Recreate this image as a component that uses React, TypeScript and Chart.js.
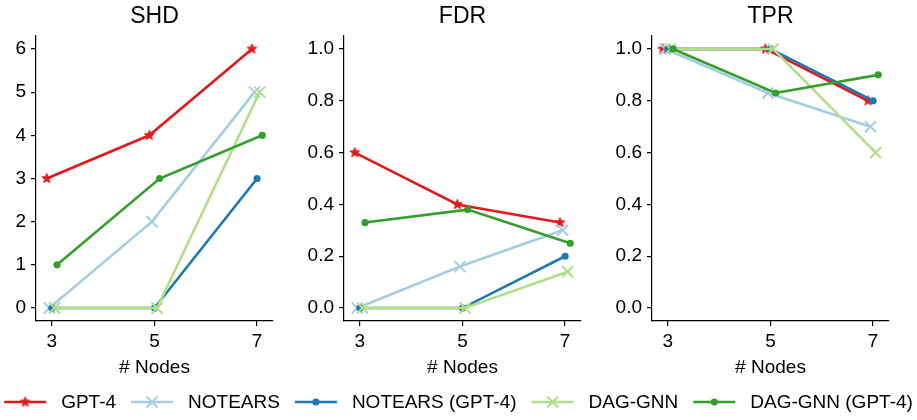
import React, { useEffect, useRef } from 'react';
import { Chart, registerables } from 'chart.js';

Chart.register(...registerables);

// ---------------- data ----------------
const nodes = [3, 5, 7];
const seriesNames = ['GPT-4', 'NOTEARS', 'NOTEARS (GPT-4)', 'DAG-GNN', 'DAG-GNN (GPT-4)'];

const shdGPT4 = [3, 4, 6];
const shdNotears = [0, 2, 5];
const shdNotearsGPT4 = [0, 0, 3];
const shdDagGnn = [0, 0, 5];
const shdDagGnnGPT4 = [1, 3, 4];

const fdrGPT4 = [0.6, 0.4, 0.33];
const fdrNotears = [0, 0.16, 0.3];
const fdrNotearsGPT4 = [0, 0, 0.2];
const fdrDagGnn = [0, 0, 0.14];
const fdrDagGnnGPT4 = [0.33, 0.38, 0.25];

const tprGPT4 = [1, 1, 0.8];
const tprNotears = [1, 0.83, 0.7];
const tprNotearsGPT4 = [1, 1, 0.8];
const tprDagGnn = [1, 1, 0.6];
const tprDagGnnGPT4 = [1, 0.83, 0.9];

const shdTicks = [0, 1, 2, 3, 4, 5, 6];
const rateTicks = [0, 0.2, 0.4, 0.6, 0.8, 1.0];
const xTitle = '# Nodes';

// ---------------- styles ----------------
const FONT = "'Liberation Sans', Arial, Helvetica, sans-serif";
const colors = ['#e31a1c', '#a6cee3', '#1f78b4', '#b2df8a', '#33a02c'];
const markers = ['star', 'x', 'dot', 'x', 'dot'];
const dodge = [-0.1, -0.05, 0, 0.05, 0.1];
const TICK_FONT = 19;
const TITLE_FONT = 23;
const LEGEND_FONT = 19;
const STAR_R = 5.2;
const X_R = 7.8;
const DOT_R = 3.6;

Chart.defaults.font.family = FONT;

function makeStar(color: string, R: number): HTMLCanvasElement {
  const size = Math.ceil(R * 2 + 4);
  const c = document.createElement('canvas');
  c.width = size;
  c.height = size;
  const g = c.getContext('2d')!;
  g.translate(size / 2, size / 2);
  g.beginPath();
  for (let k = 0; k < 10; k++) {
    const r = k % 2 === 0 ? R : R * 0.42;
    const a = -Math.PI / 2 + (k * Math.PI) / 5;
    g.lineTo(r * Math.cos(a), r * Math.sin(a));
  }
  g.closePath();
  g.fillStyle = color;
  g.fill();
  g.strokeStyle = color;
  g.lineWidth = 1;
  g.stroke();
  return c;
}

function pointOpts(i: number, star: HTMLCanvasElement) {
  const m = markers[i];
  if (m === 'star') return { pointStyle: star as any, pointRadius: STAR_R, pointBorderWidth: 0 };
  if (m === 'x') return { pointStyle: 'crossRot', pointRadius: X_R, pointBorderWidth: 2 };
  return { pointStyle: 'circle', pointRadius: DOT_R, pointBorderWidth: 0 };
}

interface PanelProps {
  title: string;
  series: number[][];
  ticks: number[];
  yMin: number;
  yMax: number;
  decimals: number;
  left: number;
  axisWidth: number;
}

const axisLine = {
  grid: { display: true, drawOnChartArea: false, drawTicks: true, tickLength: 5, color: '#000', lineWidth: 1.2 },
  border: { display: true, color: '#000', width: 1.2 },
};

function Panel({ title, series, ticks, yMin, yMax, decimals, left, axisWidth }: PanelProps) {
  const ref = useRef<HTMLCanvasElement | null>(null);
  const plotW = 237;
  const padRight = 10;
  const width = axisWidth + plotW + padRight;
  const height = 380;
  useEffect(() => {
    if (!ref.current) return;
    const star = makeStar(colors[0], STAR_R);
    const chart = new Chart(ref.current, {
      type: 'line',
      data: {
        datasets: series.map((vals, i) => ({
          label: seriesNames[i],
          data: vals.map((v, j) => ({ x: nodes[j] + dodge[i], y: v })),
          borderColor: colors[i],
          backgroundColor: colors[i],
          pointBackgroundColor: colors[i],
          pointBorderColor: colors[i],
          borderWidth: 2.6,
          tension: 0,
          clip: false as any,
          order: series.length - i,
          ...pointOpts(i, star),
        })) as any,
      },
      options: {
        animation: false,
        responsive: false,
        devicePixelRatio: 1,
        layout: { padding: { left: 0, right: padRight, top: 0, bottom: 0 } },
        plugins: {
          legend: { display: false },
          tooltip: { enabled: false },
          title: {
            display: true,
            text: title,
            fullSize: false,
            color: '#000',
            font: { family: FONT, size: TITLE_FONT, weight: 'normal' as any, lineHeight: 1.2 },
            padding: { top: 3, bottom: 5.4 },
          },
        },
        scales: {
          x: {
            type: 'linear',
            min: 2.69,
            max: 7.31,
            afterBuildTicks: (s: any) => {
              s.ticks = nodes.map((v) => ({ value: v }));
            },
            afterFit: (s: any) => {
              s.height = 59;
            },
            ...axisLine,
            ticks: {
              color: '#000',
              font: { family: FONT, size: TICK_FONT },
              padding: 4,
              maxRotation: 0,
              autoSkip: false,
              callback: (v: any) => String(v),
            },
            title: {
              display: true,
              text: xTitle,
              color: '#000',
              font: { family: FONT, size: TICK_FONT, lineHeight: 1.2 },
              padding: { top: 0, bottom: 1 },
            },
          } as any,
          y: {
            type: 'linear',
            min: yMin,
            max: yMax,
            afterBuildTicks: (s: any) => {
              s.ticks = ticks.map((v) => ({ value: v }));
            },
            afterFit: (s: any) => {
              s.width = axisWidth;
            },
            ...axisLine,
            ticks: {
              color: '#000',
              font: { family: FONT, size: TICK_FONT },
              padding: 5,
              autoSkip: false,
              callback: (v: any) => Number(v).toFixed(decimals),
            },
          } as any,
        },
      },
    });
    return () => chart.destroy();
  }, []);
  return (
    <canvas
      ref={ref}
      width={width}
      height={height}
      style={{ position: 'absolute', left: left - axisWidth, top: 0, width, height }}
    />
  );
}

const legendPlugin = {
  id: 'customLegend',
  afterDraw(chart: any) {
    const ctx = chart.ctx as CanvasRenderingContext2D;
    const star = makeStar(colors[0], STAR_R);
    ctx.save();
    ctx.font = `${LEGEND_FONT}px ${FONT}`;
    const names: string[] = chart.data.datasets.map((d: any) => d.label);
    const widths = names.map((n) => ctx.measureText(n).width);
    const lineLen = 42;
    const textGap = 15;
    const itemGap = 15;
    const total = widths.reduce((a, w) => a + lineLen + textGap + w, 0) + itemGap * (names.length - 1);
    let x = (chart.width - total) / 2;
    const y = 22;
    names.forEach((name, i) => {
      const c = colors[i];
      ctx.strokeStyle = c;
      ctx.lineWidth = 2.6;
      ctx.beginPath();
      ctx.moveTo(x, y);
      ctx.lineTo(x + lineLen, y);
      ctx.stroke();
      const cx = x + lineLen / 2;
      const m = markers[i];
      if (m === 'star') {
        ctx.drawImage(star, cx - star.width / 2, y - star.height / 2);
      } else if (m === 'x') {
        const r = X_R * Math.SQRT1_2;
        ctx.lineWidth = 2;
        ctx.beginPath();
        ctx.moveTo(cx - r, y - r);
        ctx.lineTo(cx + r, y + r);
        ctx.moveTo(cx + r, y - r);
        ctx.lineTo(cx - r, y + r);
        ctx.stroke();
      } else {
        ctx.fillStyle = c;
        ctx.beginPath();
        ctx.arc(cx, y, DOT_R, 0, Math.PI * 2);
        ctx.fill();
      }
      ctx.fillStyle = '#000';
      ctx.textBaseline = 'middle';
      ctx.textAlign = 'left';
      ctx.fillText(name, x + lineLen + textGap, y + 1);
      x += lineLen + textGap + widths[i] + itemGap;
    });
    ctx.restore();
  },
};

function Legend() {
  const ref = useRef<HTMLCanvasElement | null>(null);
  useEffect(() => {
    if (!ref.current) return;
    const chart = new Chart(ref.current, {
      type: 'line',
      data: {
        datasets: seriesNames.map((n, i) => ({ label: n, data: [], borderColor: colors[i] })),
      },
      options: {
        animation: false,
        responsive: false,
        devicePixelRatio: 1,
        plugins: { legend: { display: false }, tooltip: { enabled: false } },
        scales: { x: { display: false }, y: { display: false } },
      },
      plugins: [legendPlugin],
    });
    return () => chart.destroy();
  }, []);
  return (
    <canvas
      ref={ref}
      width={917}
      height={40}
      style={{ position: 'absolute', left: 0, top: 380, width: 917, height: 40 }}
    />
  );
}

export default function App() {
  return (
    <div style={{ position: 'fixed', left: 0, top: 0, width: 917, height: 420, background: '#fff', overflow: 'hidden' }}>
      <Panel
        title="SHD"
        series={[shdGPT4, shdNotears, shdNotearsGPT4, shdDagGnn, shdDagGnnGPT4]}
        ticks={shdTicks}
        yMin={-0.3}
        yMax={6.3}
        decimals={0}
        left={36}
        axisWidth={36}
      />
      <Panel
        title="FDR"
        series={[fdrGPT4, fdrNotears, fdrNotearsGPT4, fdrDagGnn, fdrDagGnnGPT4]}
        ticks={rateTicks}
        yMin={-0.05}
        yMax={1.05}
        decimals={1}
        left={344}
        axisWidth={50}
      />
      <Panel
        title="TPR"
        series={[tprGPT4, tprNotears, tprNotearsGPT4, tprDagGnn, tprDagGnnGPT4]}
        ticks={rateTicks}
        yMin={-0.05}
        yMax={1.05}
        decimals={1}
        left={652}
        axisWidth={50}
      />
      <Legend />
    </div>
  );
}
